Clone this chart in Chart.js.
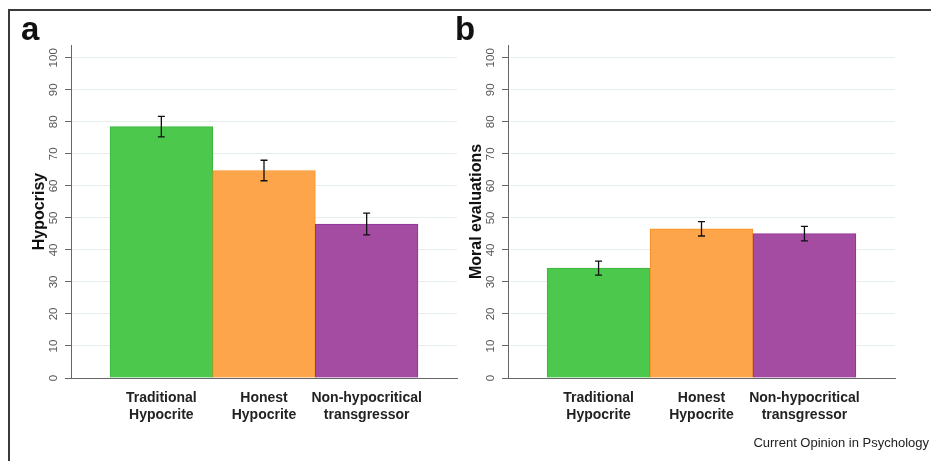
<!DOCTYPE html>
<html lang="en">
<head>
    <meta charset="UTF-8">
    <title>Hypocrisy and moral evaluations</title>
    <script src="https://cdn.jsdelivr.net/npm/chart.js"></script>
    <style>
        body {
            margin: 0;
            width: 931px;
            height: 461px;
            overflow: hidden;
            background: #fff;
            font-family: 'Liberation Sans', Arial, sans-serif;
            position: relative;
        }

        .frame {
            position: absolute;
            left: 8px;
            top: 9px;
            width: 1000px;
            height: 1000px;
            border-left: 2px solid #3a3a3a;
            border-top: 2px solid #3a3a3a;
        }

        .panel {
            position: absolute;
            top: 0;
            height: 461px;
        }

        .letter {
            position: absolute;
            font-size: 33px;
            font-weight: bold;
            line-height: 1;
            color: #111;
        }

        .source {
            position: absolute;
            right: 2px;
            top: 436px;
            font-size: 13px;
            line-height: 1;
            color: #222;
        }
    </style>
</head>
<body>
    <div class="frame"></div>
    <div class="panel" style="left: 0; width: 460px;"><canvas id="chartA"></canvas></div>
    <div class="panel" style="left: 437px; width: 494px;"><canvas id="chartB"></canvas></div>
    <div class="letter" style="left: 21px; top: 12px;">a</div>
    <div class="letter" style="left: 455px; top: 12px;">b</div>
    <div class="source">Current Opinion in Psychology</div>

    <script>
        var categories = [['Traditional', 'Hypocrite'], ['Honest', 'Hypocrite'], ['Non-hypocritical', 'transgressor']];
        var hypocrisyMeans = [78.5, 64.8, 48.1];
        var hypocrisyErr = [3.2, 3.2, 3.4];
        var moralMeans = [34.3, 46.6, 45.1];
        var moralErr = [2.2, 2.25, 2.25];
        var yTicks = [0, 10, 20, 30, 40, 50, 60, 70, 80, 90, 100];

        var fillColors = ['#4cc84c', '#fda54b', '#a44ca2'];
        var edgeColors = ['#3ab53a', '#f5911f', '#94309a'];
        var fontFamily = "'Liberation Sans', Arial, sans-serif";

        // whiskers drawn from the same scales as the bars
        var errorBars = {
            id: 'errorBars',
            afterDatasetsDraw: function (chart, args, opts) {
                var ctx = chart.ctx;
                var meta = chart.getDatasetMeta(0);
                var yScale = chart.scales.y;
                var values = chart.data.datasets[0].data;
                ctx.save();
                ctx.strokeStyle = '#111';
                ctx.lineWidth = 1.3;
                meta.data.forEach(function (bar, i) {
                    var x = bar.x;
                    var top = yScale.getPixelForValue(values[i].y + opts.errors[i]);
                    var bottom = yScale.getPixelForValue(values[i].y - opts.errors[i]);
                    ctx.beginPath();
                    ctx.moveTo(x, top);
                    ctx.lineTo(x, bottom);
                    ctx.moveTo(x - 3.5, top);
                    ctx.lineTo(x + 3.5, top);
                    ctx.moveTo(x - 3.5, bottom);
                    ctx.lineTo(x + 3.5, bottom);
                    ctx.stroke();
                });
                ctx.restore();
            }
        };

        function makeChart(id, means, errs, title, titlePad, padRight) {
            var ctx = document.getElementById(id).getContext('2d');
            return new Chart(ctx, {
                type: 'bar',
                data: {
                    datasets: [{
                        data: means.map(function (v, i) { return { x: i + 1, y: v }; }),
                        backgroundColor: fillColors,
                        borderColor: edgeColors,
                        borderWidth: 1,
                        categoryPercentage: 1,
                        barPercentage: 1
                    }]
                },
                options: {
                    responsive: true,
                    maintainAspectRatio: false,
                    animation: false,
                    layout: {
                        padding: { left: 20, right: padRight, top: 45, bottom: 23 }
                    },
                    plugins: {
                        legend: { display: false },
                        tooltip: { enabled: false },
                        errorBars: { errors: errs }
                    },
                    scales: {
                        x: {
                            type: 'linear',
                            min: 0.12,
                            max: 3.88,
                            offset: false,
                            grid: { display: true, drawOnChartArea: false, drawTicks: false, offset: false },
                            border: { display: true, color: '#666', width: 1 },
                            afterBuildTicks: function (scale) {
                                scale.ticks = categories.map(function (c, i) { return { value: i + 1 }; });
                            },
                            afterFit: function (scale) { scale.height = 60; },
                            ticks: {
                                padding: 12,
                                autoSkip: false,
                                maxRotation: 0,
                                color: '#222',
                                font: { family: fontFamily, size: 14, weight: 'bold', lineHeight: 1.2 },
                                callback: function (value) { return categories[value - 1]; }
                            }
                        },
                        y: {
                            min: 0,
                            max: 104,
                            afterBuildTicks: function (scale) {
                                scale.ticks = yTicks.map(function (v) { return { value: v }; });
                            },
                            afterFit: function (scale) { scale.width = 51; },
                            grid: { color: '#e6eeee', tickColor: '#666', tickLength: 6 },
                            border: { display: true, color: '#666', width: 1 },
                            ticks: {
                                minRotation: 90,
                                maxRotation: 90,
                                crossAlign: 'center',
                                padding: 2,
                                color: '#555',
                                font: { family: fontFamily, size: 11.5 }
                            },
                            title: {
                                display: true,
                                text: title,
                                color: '#111',
                                padding: { top: titlePad, bottom: 0 },
                                font: { family: fontFamily, size: 16, weight: 'bold' }
                            }
                        }
                    }
                },
                plugins: [errorBars]
            });
        }

        makeChart('chartA', hypocrisyMeans, hypocrisyErr, 'Hypocrisy', 10, 3);
        makeChart('chartB', moralMeans, moralErr, 'Moral evaluations', 10, 36);
    </script>
</body>
</html>
